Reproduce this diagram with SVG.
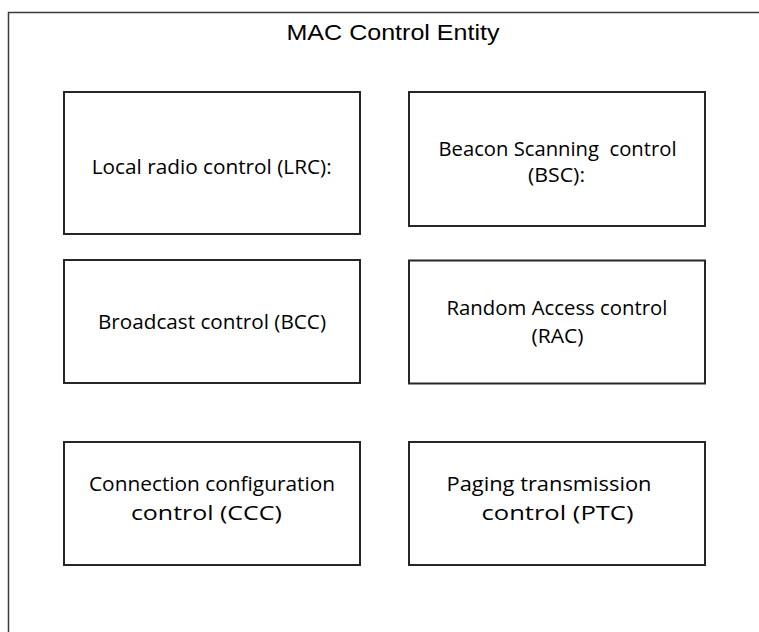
<svg xmlns="http://www.w3.org/2000/svg" width="759" height="632" viewBox="0 0 759 632">
<style>
.frame{fill:none;stroke:#3a3a3a;stroke-width:1.5}
.box rect{fill:#fff;stroke:#262626;stroke-width:2}
.lbl{font-family:"Open Sans","Noto Sans",sans-serif;font-size:19.5px;fill:#000;text-anchor:middle}
.title{font-family:"Liberation Sans",Arial,sans-serif;font-size:21.5px;fill:#000;text-anchor:middle}
</style>
<rect width="759" height="632" fill="#fff"/>
<g id="frame">
<path class="frame" d="M8.5,632 V12.5 H759"/>
<text class="title" x="393" y="40" textLength="213" lengthAdjust="spacingAndGlyphs">MAC Control Entity</text>
</g>
<g id="lrc" class="box">
<rect x="64" y="92" width="296" height="142"/>
<text class="lbl" x="211.7" y="174" textLength="240" lengthAdjust="spacingAndGlyphs">Local radio control (LRC):</text>
</g>
<g id="bsc" class="box">
<rect x="409" y="92" width="296" height="134"/>
<text class="lbl" x="557.5" y="155.5" textLength="238" lengthAdjust="spacingAndGlyphs" xml:space="preserve">Beacon Scanning  control</text>
<text class="lbl" x="556.5" y="182" textLength="57" lengthAdjust="spacingAndGlyphs">(BSC):</text>
</g>
<g id="bcc" class="box">
<rect x="64" y="260" width="296" height="123"/>
<text class="lbl" x="212" y="329" textLength="228" lengthAdjust="spacingAndGlyphs">Broadcast control (BCC)</text>
</g>
<g id="rac" class="box">
<rect x="409" y="260.5" width="296" height="123"/>
<text class="lbl" x="557" y="315" textLength="221" lengthAdjust="spacingAndGlyphs">Random Access control</text>
<text class="lbl" x="557.5" y="343" textLength="52" lengthAdjust="spacingAndGlyphs">(RAC)</text>
</g>
<g id="ccc" class="box">
<rect x="64" y="442" width="296" height="123"/>
<text class="lbl" x="212" y="491" textLength="246" lengthAdjust="spacingAndGlyphs">Connection configuration</text>
<text class="lbl" x="206.4" y="519.5" textLength="151" lengthAdjust="spacingAndGlyphs">control (CCC)</text>
</g>
<g id="ptc" class="box">
<rect x="409" y="442" width="296" height="123"/>
<text class="lbl" x="549" y="491" textLength="205" lengthAdjust="spacingAndGlyphs">Paging transmission</text>
<text class="lbl" x="557.5" y="519.5" textLength="152" lengthAdjust="spacingAndGlyphs">control (PTC)</text>
</g>
<g id="connectors"></g>
</svg>
